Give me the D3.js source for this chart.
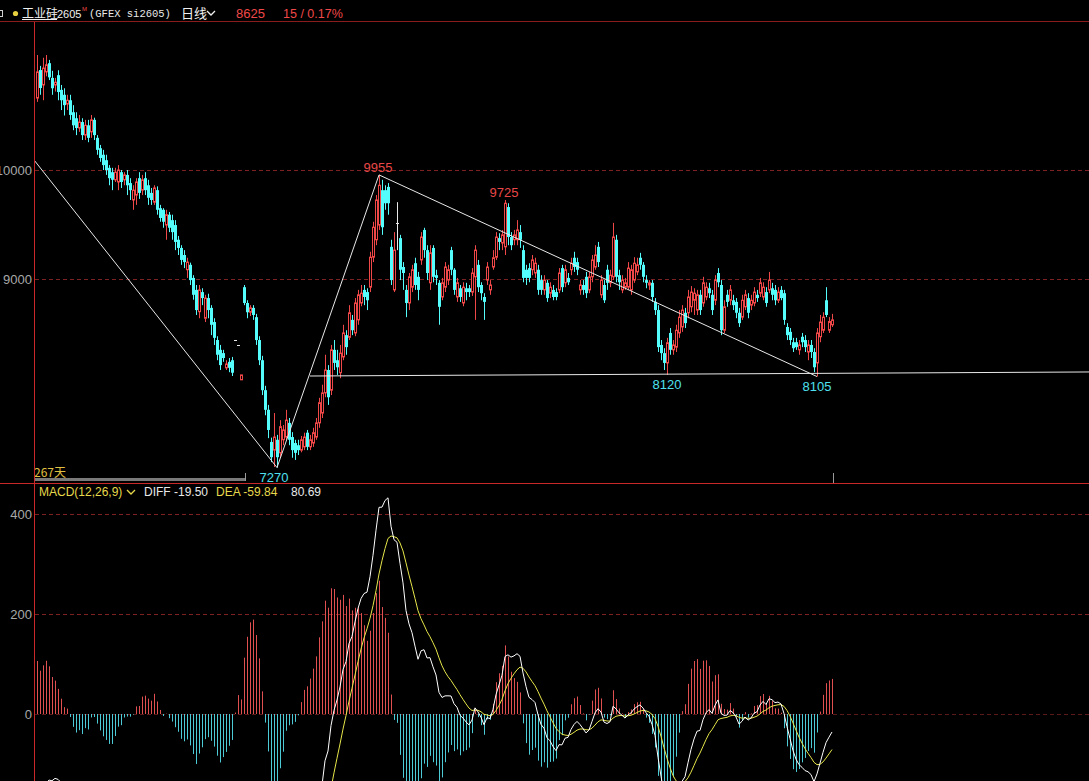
<!DOCTYPE html>
<html>
<head>
<meta charset="utf-8">
<script src="https://cdn.jsdelivr.net/npm/d3@7"></script>
<style>
html, body { margin: 0; padding: 0; background: #000; overflow: hidden; }
svg { display: block; }
</style>
</head>
<body>
<svg id="chart" width="1089" height="781"></svg>
<script>
// daily candles (index = trading day)
const opens = [10660,10917,10780,10900,10980,10845,10780,10870,10735,10690,10605,10640,10530,10475,10385,10440,10320,10410,10350,10460,
10295,10200,10140,10090,10020,9980,9910,9890,9980,9910,9955,9880,9725,9770,9925,9815,9925,9860,9790,9705,
9815,9650,9635,9495,9590,9540,9495,9360,9285,9220,9085,9130,9010,8900,8700,8880,8640,8825,8735,8605,
8440,8350,8320,8185,8240,8255,8440,8395,8075,8925,8780,8695,8735,8650,8440,8255,7980,7800,7505,7430,
7525,7405,7525,7550,7680,7550,7495,7475,7430,7460,7590,7460,7495,7550,7680,7770,7955,8165,7980,8350,
8255,8140,8285,8485,8465,8625,8505,8625,8780,8900,8880,8925,9200,9360,9495,9815,9815,9845,9295,8900,
9515,9375,9110,8900,8780,8925,9145,9020,9175,9450,9265,8965,9285,9035,8965,8835,8925,8990,9265,9085,
8835,8915,8780,8915,8915,8880,9020,9130,8945,8835,8990,8900,9110,9200,9375,9330,9295,9660,9385,9360,
9360,9430,9265,9085,9100,9085,9055,9085,8990,8900,8965,8870,8900,8880,8900,9100,8965,9010,9085,9195,
9155,8900,8945,9020,8900,9020,9110,9295,8855,8945,9085,8965,9020,9360,9035,8900,8925,8925,8900,8990,
9065,9195,9130,8990,8945,8965,8790,8715,8395,8320,8230,8505,8350,8375,8505,8560,8690,8690,8745,8805,
8715,8855,8780,8835,8915,8855,8805,9055,8945,8530,8855,8805,8805,8790,8690,8650,8745,8825,8760,8780,
8855,8870,8835,8880,8900,8915,8900,8805,8900,8870,8560,8515,8420,8420,8350,8470,8440,8330,8395,8330,
8230,8470,8530,8805,8530,8580];
const highs = [11055,10955,11030,11055,11010,10910,10845,10915,10780,10750,10690,10690,10595,10530,10505,10475,10460,10460,10505,10480,
10320,10230,10185,10140,10045,10020,10020,10045,10000,9980,10000,9925,9860,9925,9980,9955,9980,9910,9835,9860,
9850,9680,9650,9635,9615,9590,9540,9395,9310,9265,9195,9150,9035,8945,8945,8915,8855,8865,8760,8640,
8475,8395,8350,8255,8275,8285,8440,8395,8120,8945,8805,8760,8760,8680,8475,8295,8020,7845,7545,7770,
7570,7705,7660,7800,7725,7595,7525,7525,7560,7590,7615,7570,7635,7725,7910,8030,8305,8210,8395,8440,
8350,8395,8580,8530,8760,8670,8825,8900,8945,8945,8915,9250,9525,9770,9955,9910,9860,9880,9360,9430,
9705,9405,9155,8945,9055,9130,9195,9065,9430,9470,9310,9310,9310,9085,8990,9010,9155,9130,9295,9100,
9010,8945,8970,8965,8945,9100,9310,9175,8970,8870,9155,8990,9265,9430,9420,9450,9725,9695,9430,9450,
9540,9495,9310,9130,9145,9220,9195,9130,9035,9035,8990,8970,8945,8915,9100,9130,9130,9055,9195,9250,
9195,8990,8990,9065,9065,9220,9310,9340,9035,8990,9130,9085,9515,9405,9085,9035,9010,9155,9130,9200,
9195,9240,9155,9035,8990,8990,8825,8760,8440,8365,8460,8550,8440,8580,8715,8760,8735,8900,8935,8915,
8900,8900,9020,8970,8965,8900,9035,9100,8990,8805,8900,8945,8855,8825,8735,8855,8900,8870,8855,8925,
8900,9010,8970,8925,9065,8965,8945,8925,8935,8900,8595,8550,8460,8460,8440,8505,8485,8440,8440,8365,
8550,8670,8695,8925,8650,8680];
const lows = [10625,10690,10640,10860,10825,10690,10720,10640,10550,10500,10550,10460,10365,10320,10350,10275,10275,10255,10295,10275,
10140,10075,10000,9955,9860,9815,9890,9815,9835,9860,9770,9725,9635,9680,9735,9770,9770,9680,9680,9680,
9590,9525,9470,9360,9430,9360,9265,9220,9130,9100,9010,8945,8810,8670,8640,8760,8605,8640,8485,8395,
8255,8165,8240,8165,8145,8110,8440,8395,8075,8760,8640,8660,8625,8395,8210,7935,7750,7540,7320,7275,
7270,7360,7475,7525,7475,7360,7340,7385,7410,7430,7430,7430,7460,7525,7635,7725,7915,7845,7935,8165,
8120,8090,8255,8305,8440,8485,8475,8580,8750,8760,8715,8880,9155,9310,9450,9405,9635,9590,8945,8880,
9265,8990,8900,8650,8715,8880,8900,8805,9130,9195,8990,8900,8970,8945,8580,8805,8880,8945,9035,8855,
8790,8790,8750,8805,8835,8845,8625,8880,8805,8625,8945,8855,9085,9175,9265,9265,9220,9310,9265,9310,
9310,9285,8970,8945,8970,9035,9010,8855,8855,8855,8790,8825,8805,8805,8870,8880,8925,8945,9035,9065,
9035,8855,8855,8825,8870,8970,9085,9110,8825,8780,8900,8925,8990,8970,8900,8870,8900,8900,8855,8965,
9035,9085,8970,8915,8900,8790,8670,8330,8255,8165,8120,8305,8305,8330,8460,8515,8550,8640,8695,8670,
8670,8670,8745,8805,8825,8670,8760,8925,8485,8505,8745,8760,8715,8640,8560,8625,8715,8640,8715,8750,
8790,8835,8805,8745,8870,8805,8760,8780,8805,8580,8440,8395,8330,8350,8305,8375,8330,8255,8275,8145,
8105,8420,8505,8650,8505,8560];
const closes = [10900,10752,10935,10965,10850,10750,10805,10715,10640,10595,10640,10505,10410,10385,10440,10320,10410,10295,10460,10320,
10185,10110,10045,10000,9925,9910,9980,10000,9890,9955,9860,9815,9815,9890,9790,9910,9815,9745,9725,9835,
9635,9560,9525,9590,9470,9430,9340,9285,9175,9155,9155,8990,8855,8715,8900,8825,8825,8715,8580,8460,
8305,8210,8275,8220,8185,8140,8440,8395,8120,8780,8695,8735,8670,8440,8255,7980,7800,7615,7365,7550,
7365,7645,7615,7705,7525,7430,7405,7430,7525,7550,7460,7525,7590,7680,7865,7955,8165,7915,8350,8230,
8190,8320,8505,8375,8690,8530,8780,8855,8870,8835,8805,9200,9475,9725,9860,9475,9695,9695,8990,9265,
9515,9085,9055,8780,9020,9085,8945,8900,9385,9265,9055,9240,9020,9010,8745,8965,9110,9085,9085,8900,
8965,8835,8925,8880,8880,9055,9265,8925,8870,8790,9110,8945,9195,9385,9340,9405,9695,9385,9310,9405,
9450,9360,9010,9010,9010,9175,9145,8900,8900,8990,8825,8925,8835,8835,9055,8925,9085,8970,9145,9110,
9085,8945,8900,8870,9020,9175,9220,9155,8990,8805,8965,9035,9385,9020,8970,8990,8965,9100,9085,9145,
9130,9130,9020,8965,8965,8835,8715,8375,8320,8230,8415,8350,8395,8530,8650,8715,8595,8835,8880,8870,
8855,8715,8965,8925,8870,8715,8990,8970,8530,8745,8790,8900,8760,8690,8595,8805,8855,8690,8805,8880,
8825,8965,8925,8780,8990,8855,8805,8880,8825,8625,8485,8440,8365,8375,8395,8420,8375,8395,8330,8190,
8505,8605,8650,8670,8610,8625];

// price pane ticks and the MACD pane ticks
const priceTicks = [9000, 10000];
const macdTicks = [0, 200, 400];

// hand-drawn lines on the chart: [day index, price]
const trendLines = [
  [[-1, 10092], [80, 7270]],
  [[80, 7270], [114, 9955]],
  [[114, 9955], [260, 8105]]
];
const supportLine = [[91, 8110], [210, 8127]];

// marked highs / lows: [day index, price, label, kind]
const marks = [
  [114, 9955, "9955", "high"],
  [156, 9725, "9725", "high"],
  [79, 7270, "7270", "low"],
  [210, 8120, "8120", "low"],
  [260, 8105, "8105", "low"]
];

const macdParams = [12, 26, 9];
const emaFastStart = 10900;
const emaSlowStart = 11075;
const deaStart = -228;

const headerInfo = { name: "工业硅", contract: "2605", code: "(GFEX si2605)", period: "日线", last: "8625", change: "15 / 0.17%" };
const macdInfo = { diff: "-19.50", dea: "-59.84", macd: "80.69" };
const dayCount = "267天";

const W = 1089, H = 781;
const RED = "#f04848", CYAN = "#54fcfc", GRID = "#7c2222", AXIS = "#c82828";
const FONT = "'Liberation Sans', Arial, sans-serif";
const CJK = "'Noto Sans CJK SC', sans-serif";

const svg = d3.select("#chart");
svg.append("rect").attr("width", W).attr("height", H).attr("fill", "#000");

const pane = {left: 35, top: 22, bottom: 483};
const macdPane = {top: 484, bottom: 781};

const x = d3.scaleLinear().domain([0, closes.length - 1]).range([37, 832]);
const y = d3.scaleLinear().domain([9000, 10000]).range([279, 170]);
const ym = d3.scaleLinear().domain([0, 400]).range([714, 514]);
const px = i => Math.round(x(i)) + 0.5;

const defs = svg.append("defs");
defs.append("clipPath").attr("id", "clipMain").append("rect")
  .attr("x", pane.left).attr("y", pane.top).attr("width", W - pane.left).attr("height", pane.bottom - pane.top);
defs.append("clipPath").attr("id", "clipMacd").append("rect")
  .attr("x", pane.left).attr("y", macdPane.top).attr("width", W - pane.left).attr("height", macdPane.bottom - macdPane.top);

// ---- grid
const main = svg.append("g").attr("clip-path", "url(#clipMain)");
main.selectAll("line.grid").data(priceTicks).enter().append("line")
  .attr("x1", pane.left).attr("x2", W)
  .attr("y1", d => Math.round(y(d)) + 0.5).attr("y2", d => Math.round(y(d)) + 0.5)
  .attr("stroke", GRID).attr("stroke-dasharray", "4,3");

// ---- candles
const candles = main.selectAll("g.candle").data(closes.map((c, i) => i)).enter().append("g");
candles.append("line")
  .attr("x1", px).attr("x2", px)
  .attr("y1", i => y(highs[i])).attr("y2", i => y(lows[i]))
  .attr("stroke", i => closes[i] > opens[i] ? RED : closes[i] < opens[i] ? CYAN : "#e8e8e8");
candles.each(function (i) {
  const g = d3.select(this);
  const top = y(Math.max(opens[i], closes[i]));
  const bot = y(Math.min(opens[i], closes[i]));
  const cx = Math.round(x(i));
  if (closes[i] > opens[i]) {
    g.append("rect").attr("x", cx - 0.5).attr("y", top).attr("width", 2).attr("height", Math.max(bot - top, 1))
      .attr("fill", "#000").attr("stroke", RED).attr("stroke-width", 1);
  } else if (closes[i] < opens[i]) {
    g.append("rect").attr("x", cx - 1).attr("y", top).attr("width", 3).attr("height", Math.max(bot - top, 1))
      .attr("fill", CYAN);
  } else {
    g.append("line").attr("x1", cx - 1).attr("x2", cx + 2)
      .attr("y1", Math.round(top) + 0.5).attr("y2", Math.round(top) + 0.5).attr("stroke", "#e8e8e8");
  }
});

// ---- drawn lines
const line = d3.line().x(d => x(d[0])).y(d => y(d[1]));
main.selectAll("path.trend").data(trendLines).enter().append("path")
  .attr("d", line).attr("fill", "none").attr("stroke", "#e8e8e8").attr("stroke-width", 1);
const slope = (supportLine[1][1] - supportLine[0][1]) / (supportLine[1][0] - supportLine[0][0]);
const endIdx = x.invert(W);
const supportExt = [supportLine[0], [endIdx, supportLine[0][1] + slope * (endIdx - supportLine[0][0])]];
main.append("path").attr("d", line(supportExt)).attr("fill", "none").attr("stroke", "#e8e8e8");

// ---- high/low labels
svg.selectAll("text.mark").data(marks).enter().append("text")
  .attr("x", d => x(d[0]) + (d[3] === "high" ? -1 : 0))
  .attr("y", d => d[3] === "high" ? y(d[1]) - 3 : y(d[1]) + 14)
  .attr("text-anchor", "middle")
  .attr("font-family", FONT).attr("font-size", 13)
  .attr("fill", d => d[3] === "high" ? "#e84848" : "#4fe0f0")
  .text(d => d[2]);

// ---- price axis labels
const yAxis = d3.axisLeft(y).tickValues(priceTicks).tickSize(0).tickPadding(0).tickFormat(d3.format("d"));
const ya = svg.append("g").attr("transform", "translate(32,0)").call(yAxis);
ya.select(".domain").remove();
ya.selectAll("text").attr("font-family", FONT).attr("font-size", 13).attr("fill", "#a8a8a8").attr("dy", "0.35em");

// ---- bottom of price pane: day count and scroll bar
svg.append("rect").attr("x", 35).attr("y", 478).attr("width", 210).attr("height", 3).attr("fill", "#7a7a7a");
svg.append("line").attr("x1", 245.5).attr("x2", 245.5).attr("y1", 473).attr("y2", 481).attr("stroke", "#9a9a9a");
svg.append("line").attr("x1", 833.5).attr("x2", 833.5).attr("y1", 473).attr("y2", 483).attr("stroke", "#9a9a9a");
svg.append("text").attr("x", 34).attr("y", 477).attr("font-family", CJK)
  .attr("font-size", 12).attr("fill", "#e0c040").text(dayCount);

// ---- MACD
const [fastN, slowN, sigN] = macdParams;
let eF = emaFastStart, eS = emaSlowStart, dea = deaStart;
const diffs = [], deas = [], bars = [];
closes.forEach((c, i) => {
  if (i > 0) {
    eF += (c - eF) * 2 / (fastN + 1);
    eS += (c - eS) * 2 / (slowN + 1);
  }
  const d = eF - eS;
  if (i > 0) dea += (d - dea) * 2 / (sigN + 1);
  diffs.push(d); deas.push(dea); bars.push(2 * (d - dea));
});

const macdG = svg.append("g").attr("clip-path", "url(#clipMacd)");
macdG.selectAll("line.mgrid").data(macdTicks).enter().append("line")
  .attr("x1", pane.left).attr("x2", W)
  .attr("y1", d => Math.round(ym(d)) + 0.5).attr("y2", d => Math.round(ym(d)) + 0.5)
  .attr("stroke", d => d === 0 ? "#5a1a1a" : GRID).attr("stroke-dasharray", "4,3");
macdG.selectAll("line.bar").data(bars).enter().append("line")
  .attr("x1", (d, i) => px(i)).attr("x2", (d, i) => px(i))
  .attr("y1", ym(0)).attr("y2", d => ym(d))
  .attr("stroke", d => d >= 0 ? "#e05050" : "#4ccbd6");
const mline = d3.line().x((d, i) => x(i)).y(d => ym(d));
macdG.append("path").datum(deas).attr("d", mline).attr("fill", "none").attr("stroke", "#e6e64a");
macdG.append("path").datum(diffs).attr("d", mline).attr("fill", "none").attr("stroke", "#ffffff");

const mAxis = d3.axisLeft(ym).tickValues(macdTicks).tickSize(0).tickPadding(0);
const ma = svg.append("g").attr("transform", "translate(32,0)").call(mAxis);
ma.select(".domain").remove();
ma.selectAll("text").attr("font-family", FONT).attr("font-size", 13).attr("fill", "#a8a8a8").attr("dy", "0.35em");

// MACD legend
const chevron = (g, cx, cy, col) => g.append("path")
  .attr("d", `M${cx - 4},${cy - 2} L${cx},${cy + 2} L${cx + 4},${cy - 2}`)
  .attr("fill", "none").attr("stroke", col).attr("stroke-width", 1.3);
const leg = svg.append("g").attr("font-family", FONT).attr("font-size", 12);
leg.append("text").attr("x", 39).attr("y", 496).attr("fill", "#e6d84a").text(`MACD(${macdParams.join(",")})`);
chevron(leg, 131, 492, "#e6d84a");
leg.append("text").attr("x", 144).attr("y", 496).attr("fill", "#e8e8e8").text("DIFF " + macdInfo.diff);
leg.append("text").attr("x", 216).attr("y", 496).attr("fill", "#e6d84a").text("DEA " + macdInfo.dea);
leg.append("text").attr("x", 291).attr("y", 496).attr("fill", "#e8e8e8").text(macdInfo.macd);

// ---- frame lines
svg.append("line").attr("x1", 0).attr("x2", W).attr("y1", 21.5).attr("y2", 21.5).attr("stroke", "#8a1c1c");
svg.append("line").attr("x1", 34.5).attr("x2", 34.5).attr("y1", 22).attr("y2", H).attr("stroke", AXIS);
svg.append("line").attr("x1", 0).attr("x2", W).attr("y1", 483.5).attr("y2", 483.5).attr("stroke", AXIS);

// ---- header
const hd = svg.append("g");
hd.append("rect").attr("x", -4.5).attr("y", 10.5).attr("width", 7).attr("height", 6).attr("fill", "none").attr("stroke", "#d0d0d0");
hd.append("circle").attr("cx", 15.5).attr("cy", 13.5).attr("r", 2.6).attr("fill", "#e6d040");
hd.append("text").attr("x", 22).attr("y", 18).attr("font-family", CJK).attr("font-size", 12)
  .attr("fill", "#f0f0f0").text(headerInfo.name);
hd.append("text").attr("x", 57).attr("y", 18).attr("font-family", FONT).attr("font-size", 11)
  .attr("fill", "#f0f0f0").text(headerInfo.contract);
hd.append("line").attr("x1", 22).attr("x2", 57).attr("y1", 19.5).attr("y2", 19.5).attr("stroke", "#f0f0f0");
hd.append("text").attr("x", 82).attr("y", 11).attr("font-family", FONT).attr("font-size", 6).attr("fill", RED).text("M");
hd.append("text").attr("x", 89).attr("y", 17).attr("font-family", "'Liberation Mono', monospace").attr("font-size", 10.5)
  .attr("fill", "#e8e8e8").text(headerInfo.code);
hd.append("text").attr("x", 181).attr("y", 18).attr("font-family", CJK).attr("font-size", 13)
  .attr("fill", "#f0f0f0").text(headerInfo.period);
chevron(hd, 211, 13, "#f0f0f0");
hd.append("text").attr("x", 236).attr("y", 18).attr("font-family", FONT).attr("font-size", 13).attr("fill", RED).text(headerInfo.last);
hd.append("text").attr("x", 283).attr("y", 18).attr("font-family", FONT).attr("font-size", 12.5).attr("fill", RED).text(headerInfo.change);
</script>
</body>
</html>
